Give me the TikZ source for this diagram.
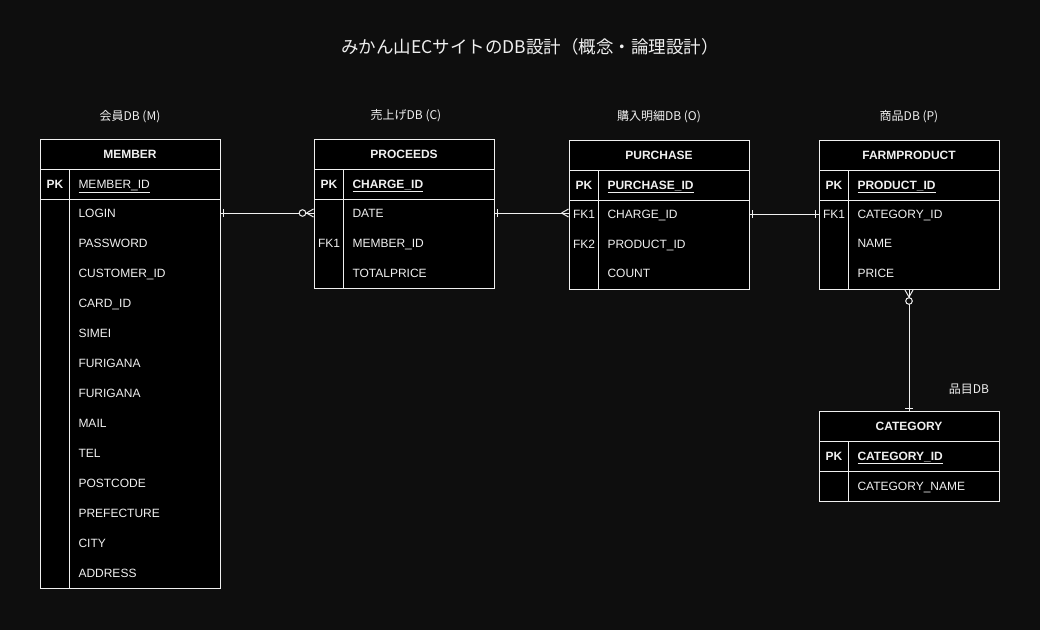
\documentclass[tikz,border=0pt]{standalone}
\usepackage{fontspec}
\setmainfont{Liberation Sans}
\newfontfamily\jp{Noto Sans CJK JP}
\usetikzlibrary{decorations.markings}
\definecolor{bg}{RGB}{14,14,14}
\definecolor{ink}{RGB}{240,240,240}
\tikzset{
  tbox/.style={draw=ink,fill=black,minimum width=180pt,inner sep=0pt,anchor=north,text=ink,font=\fontsize{12}{14}\selectfont\bfseries},
  fld/.style={anchor=west,inner sep=0pt,text height=8.6pt,text depth=0pt,text=ink,font=\fontsize{12}{14}\selectfont},
  key/.style={fld,anchor=center},
  lbl/.style={text=ink,font=\jp\fontsize{12}{14}\selectfont},
  one/.style={postaction={decorate,decoration={markings,mark=at position 3pt with {\draw (0,-4)--(0,4);}}}},
  one end/.style={postaction={decorate,decoration={markings,mark=at position -3pt with {\draw (0,-4)--(0,4);}}}},
  many/.style={postaction={decorate,decoration={markings,mark=at position -7pt with {\draw (0,0)--(7,-4) (0,0)--(7,4);}}}},
  zmany/.style={many,postaction={decorate,decoration={markings,mark=at position -11pt with {\draw[fill=bg] (0,0) circle (3.3);}}}}
}
\begin{document}
\begin{tikzpicture}[x=1pt,y=-1pt,line width=1pt,draw=ink]
\fill[bg] (0,0) rectangle (1040,630);
\node[lbl,font=\jp\fontsize{17.5}{20}\selectfont] (title)at(530,47){みかん山ECサイトのDB設計（概念・論理設計）};

\node[lbl] (lm)at(130,117){会員DB (M)};
\node[tbox,minimum height=30pt] (memberH)at(130,139){MEMBER};
\node[tbox,minimum height=30pt] (memberK)at(130,169){};
\node[tbox,minimum height=389pt] (memberB)at(130,199){};
\draw ([xshift=30pt]memberK.north west) -- ([xshift=30pt]memberB.south west);
\node[key] (mpk)at(55,184){\bfseries PK};
\node[fld] (m0)at(78,184){\underline{MEMBER\_ID}};
\foreach \t [count=\i] in {LOGIN,PASSWORD,CUSTOMER\_ID,CARD\_ID,SIMEI,FURIGANA,FURIGANA,MAIL,TEL,POSTCODE,PREFECTURE,CITY,ADDRESS}
  \node[fld] (m\i)at(78,183+30*\i){\t};

\node[lbl] (lc)at(406,116){売上げDB (C)};
\node[tbox,minimum height=30pt] (proceedsH)at(404,139){PROCEEDS};
\node[tbox,minimum height=30pt] (proceedsK)at(404,169){};
\node[tbox,minimum height=89pt] (proceedsB)at(404,199){};
\draw ([xshift=30pt]proceedsK.north west) -- ([xshift=30pt]proceedsB.south west);
\node[key] (cpk)at(329,184){\bfseries PK};
\node[fld] (c0)at(352,184){\bfseries\underline{CHARGE\_ID}};
\node[fld] (c1)at(352,213){DATE};
\node[key] (cfk)at(329,243){FK1};
\node[fld] (c2)at(352,243){MEMBER\_ID};
\node[fld] (c3)at(352,273){TOTALPRICE};

\node[lbl] (lo)at(659,117){購入明細DB (O)};
\node[tbox,minimum height=30pt] (purchaseH)at(659,140){PURCHASE};
\node[tbox,minimum height=30pt] (purchaseK)at(659,170){};
\node[tbox,minimum height=89pt] (purchaseB)at(659,200){};
\draw ([xshift=30pt]purchaseK.north west) -- ([xshift=30pt]purchaseB.south west);
\node[key] (opk)at(584,185){\bfseries PK};
\node[fld] (o0)at(607,185){\bfseries\underline{PURCHASE\_ID}};
\node[key] (ofk1)at(584,214){FK1};
\node[fld] (o1)at(607,214){CHARGE\_ID};
\node[key] (ofk2)at(584,244){FK2};
\node[fld] (o2)at(607,244){PRODUCT\_ID};
\node[fld] (o3)at(607,273){COUNT};

\node[lbl] (lp)at(909,117){商品DB (P)};
\node[tbox,minimum height=30pt] (farmH)at(909,140){FARMPRODUCT};
\node[tbox,minimum height=30pt] (farmK)at(909,170){};
\node[tbox,minimum height=89pt] (farmB)at(909,200){};
\draw ([xshift=30pt]farmK.north west) -- ([xshift=30pt]farmB.south west);
\node[key] (ppk)at(834,185){\bfseries PK};
\node[fld] (p0)at(857,185){\bfseries\underline{PRODUCT\_ID}};
\node[key] (pfk)at(834,214){FK1};
\node[fld] (p1)at(857,214){CATEGORY\_ID};
\node[fld] (p2)at(857,243){NAME};
\node[fld] (p3)at(857,273){PRICE};

\node[lbl] (lg)at(969,389){品目DB};
\node[tbox,minimum height=30pt] (categoryH)at(909,411){CATEGORY};
\node[tbox,minimum height=30pt] (categoryK)at(909,441){};
\node[tbox,minimum height=30pt] (categoryB)at(909,471){};
\draw ([xshift=30pt]categoryK.north west) -- ([xshift=30pt]categoryB.south west);
\node[key] (gpk)at(834,456){\bfseries PK};
\node[fld] (g0)at(857,456){\bfseries\underline{CATEGORY\_ID}};
\node[fld] (g1)at(857,486){CATEGORY\_NAME};

\draw[one,zmany] (memberB.east |- m1) -- (proceedsB.west |- m1);
\draw[one,many] (proceedsB.east |- c1) -- (purchaseB.west |- c1);
\draw[one,one end] (purchaseB.east |- o1) -- (farmB.west |- o1);
\draw[one,zmany] (categoryH.north) -- (farmB.south);
\end{tikzpicture}
\end{document}
